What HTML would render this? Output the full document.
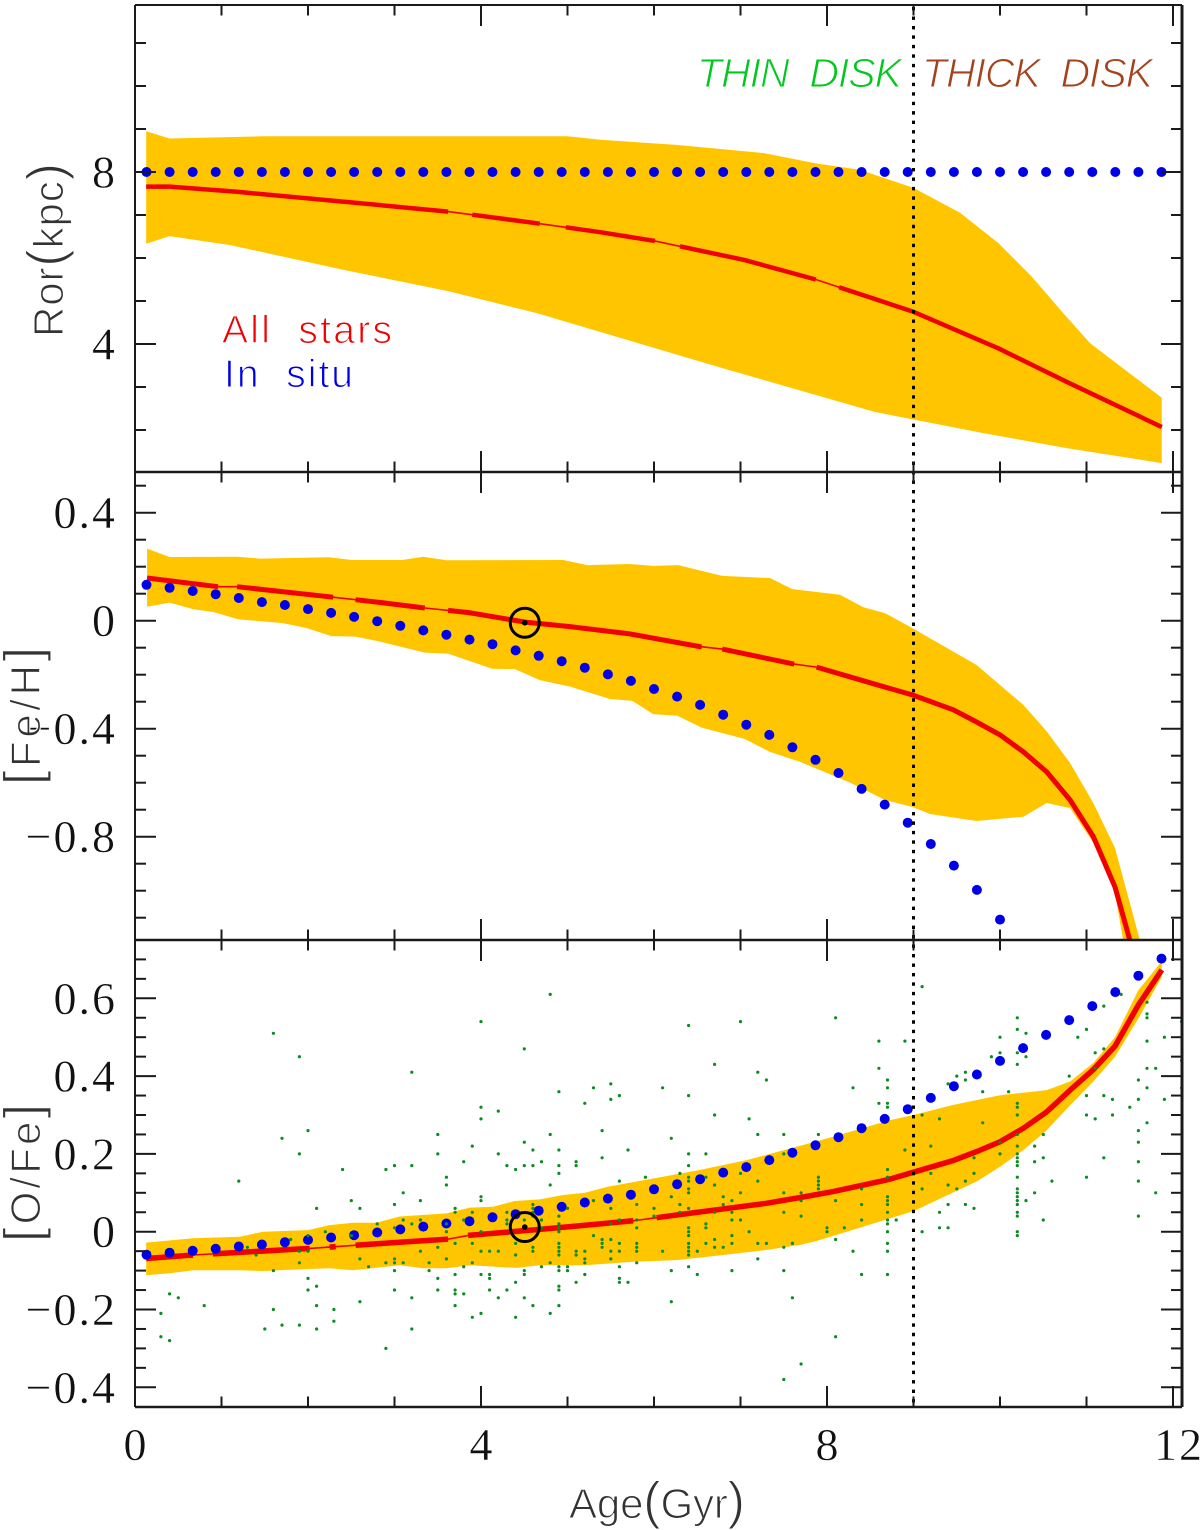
<!DOCTYPE html>
<html lang="en">
<head>
<meta charset="utf-8">
<title>Stellar radius and abundances versus age</title>
<style>
html,body{margin:0;padding:0;background:#fff;}
svg{display:block;}
.lbl{font-family:"Liberation Sans",sans-serif;paint-order:fill;stroke:#fff;stroke-width:1.1px;}
.tick{font-family:"Liberation Serif",serif;font-size:46px;fill:#111;letter-spacing:2px;stroke:#fff;stroke-width:.4px;}
</style>
</head>
<body>
<svg id="chart" xmlns="http://www.w3.org/2000/svg" width="1200" height="1530" viewBox="0 0 1200 1530">
  <defs>
    <clipPath id="clip-ror"><rect x="135" y="5" width="1047" height="467"/></clipPath>
    <clipPath id="clip-fe"><rect x="135" y="472" width="1047" height="468"/></clipPath>
    <clipPath id="clip-ofe"><rect x="135" y="940" width="1047" height="467"/></clipPath>
  </defs>
  <g id="marks"></g>
  <g id="axes"></g>
  <text class="lbl" x="697" y="87" font-size="41" font-style="italic" fill="#00c81e" textLength="205" lengthAdjust="spacing" xml:space="preserve">THIN  DISK</text>
  <text class="lbl" x="922" y="87" font-size="41" font-style="italic" fill="#a5421c" textLength="231" lengthAdjust="spacing" xml:space="preserve">THICK  DISK</text>
  <text class="lbl" x="222" y="343" font-size="39" fill="#f00000" textLength="170" lengthAdjust="spacing" xml:space="preserve">All  stars</text>
  <text class="lbl" x="224" y="387" font-size="39" fill="#0000e6" textLength="129" lengthAdjust="spacing" xml:space="preserve">In  situ</text>
  <text class="lbl" transform="translate(63,337) rotate(-90)" font-size="42" fill="#333" textLength="174" lengthAdjust="spacing">Ror<tspan font-size="52">(</tspan>kpc<tspan font-size="52">)</tspan></text>
  <text class="lbl" transform="translate(40,785) rotate(-90)" font-size="42" fill="#333" textLength="138" lengthAdjust="spacing"><tspan font-size="52">[</tspan>Fe/H<tspan font-size="52">]</tspan></text>
  <text class="lbl" transform="translate(40,1242) rotate(-90)" font-size="42" fill="#333" textLength="138" lengthAdjust="spacing"><tspan font-size="52">[</tspan>O/Fe<tspan font-size="52">]</tspan></text>
  <text class="lbl" x="569" y="1518" font-size="42" fill="#333" textLength="176" lengthAdjust="spacing">Age<tspan font-size="52">(</tspan>Gyr<tspan font-size="52">)</tspan></text>
</svg>
<script>
// ---------- shared bin ages of the "in situ" dots (Gyr) ----------
const dotAges = [.133,.4,.667,.933,1.2,1.467,1.733,2,2.267,2.533,2.8,3.067,3.333,3.6,3.867,4.133,4.4,4.667,4.933,5.2,5.467,5.733,6,6.267,6.533,6.8,7.067,7.333,7.6,7.867,8.133,8.4,8.667,8.933,9.2,9.467,9.733,10,10.267,10.533,10.8,11.067,11.333,11.6,11.867];

// ---------- Ror panel ----------
const rorUpperAges = [.13,.4,1.5,5,5.38,6.26,7.27,7.87,8.38,9,9.54,9.98,10.37,10.73,11.04,11.87];
const rorUpperVals = [8.95,8.78,8.83,8.83,8.75,8.63,8.44,8.2,8.05,7.63,7.05,6.35,5.56,4.72,4.02,2.75];
const rorLowerAges = [.13,.4,1.1,2.42,3.62,4.64,5.38,6.79,8.55,9.8,10.77,11.87];
const rorLowerVals = [6.33,6.51,6.3,5.72,5.23,4.72,4.28,3.44,2.42,1.93,1.58,1.23];
const rorMeanAges = [.13,.4,1.18,2.42,3.62,4.64,5.38,6.0,7.05,7.87,9,9.98,10.77,11.87];
const rorMeanVals = [7.66,7.66,7.54,7.31,7.08,6.81,6.6,6.4,5.95,5.5,4.75,3.9,3.12,2.07];
const rorThinFrom = [3.62,4.68,6.01,7.87];
const rorThinTo = [3.9,4.98,6.3,8.14];
const rorDots = [8,8,8,8,8,8,8,8,8,8,8,8,8,8,8,8,8,8,8,8,8,8,8,8,8,8,8,8,8,8,8,8,8,8,8,8,8,8,8,8,8,8,8,8,8];
const rorTickValues = [8,4];
const rorTickLabels = ["8","4"];

// ---------- [Fe/H] panel ----------
const feUpperAges = [.14,.4,1.18,1.45,2.24,2.51,3.09,3.33,3.6,4.95,5.23,5.72,5.99,6.28,6.79,7.34,7.6,8.15,8.42,8.67,8.99,9.73,10.27,10.54,10.81,11.08,11.33,11.61,11.63];
const feUpperVals = [.267,.236,.237,.23,.235,.225,.225,.237,.224,.225,.206,.21,.203,.206,.166,.158,.117,.096,.05,.028,-.028,-.164,-.312,-.41,-.527,-.676,-.842,-1.175,-1.25];
const feLowerAges = [.14,.4,.67,.91,1.2,1.71,1.98,2.27,2.55,2.8,3.35,3.62,4.13,4.39,4.68,5.03,5.49,5.75,5.99,6.27,6.55,7.05,7.34,7.69,8.27,8.67,8.99,9.19,9.73,10.27,10.54,10.81,11.08,11.33,11.42,11.44];
const feLowerVals = [.052,.067,.043,.032,.005,-.009,-.027,-.057,-.059,-.075,-.118,-.122,-.178,-.179,-.22,-.244,-.29,-.297,-.346,-.352,-.396,-.438,-.486,-.523,-.6,-.664,-.69,-.716,-.742,-.726,-.675,-.694,-.823,-1.01,-1.175,-1.25];
const feMeanAges = [.14,.96,1.18,2.29,2.8,3.35,3.86,4.51,5.03,5.72,6.53,6.79,7.61,7.88,8.5,8.99,9.46,9.73,10,10.27,10.54,10.81,11.08,11.33,11.5,11.56];
const feMeanVals = [.158,.126,.126,.087,.069,.047,.03,-.005,-.022,-.049,-.096,-.105,-.16,-.172,-.23,-.275,-.33,-.375,-.423,-.486,-.56,-.664,-.8,-.986,-1.183,-1.25];
const feThinFrom = [.96,2.29,3.35,6.55,7.62];
const feThinTo = [1.18,2.55,3.62,6.79,7.88];
const feDots = [.133,.122,.11,.098,.084,.069,.058,.043,.029,.014,-.002,-.019,-.036,-.052,-.07,-.087,-.11,-.13,-.15,-.174,-.199,-.223,-.253,-.281,-.312,-.348,-.385,-.423,-.469,-.515,-.564,-.623,-.681,-.748,-.827,-.907,-.997,-1.107];
const feTickValues = [.4,0,-.4,-.8];
const feTickLabels = ["0.4","0","\u22120.4","\u22120.8"];

// ---------- [O/Fe] panel ----------
const ofeUpperAges = [.13,.67,1.21,1.48,2,2.25,2.52,2.79,3.06,3.6,3.87,4.14,4.39,4.68,4.94,5.2,5.47,6,6.54,7.07,7.69,8.07,8.73,9,9.46,10,10.54,10.81,11.08,11.33,11.6,11.87];
const ofeUpperVals = [-.028,-.017,-.013,0,.004,.017,.023,.023,.039,.047,.062,.064,.079,.083,.094,.1,.116,.137,.159,.184,.221,.244,.287,.3,.326,.351,.364,.386,.434,.5,.621,.695];
const ofeLowerAges = [.13,.4,.67,1.21,1.48,2,2.25,2.52,3.06,3.33,3.6,3.87,4.41,4.68,5.2,5.76,6.26,6.8,7.3,7.69,7.88,8.42,9,9.73,10,10.27,10.54,10.81,11.08,11.33,11.6,11.87];
const ofeLowerVals = [-.112,-.107,-.099,-.099,-.101,-.096,-.094,-.099,-.086,-.094,-.094,-.086,-.093,-.086,-.086,-.077,-.073,-.06,-.047,-.034,-.024,.013,.053,.129,.167,.21,.261,.325,.386,.45,.548,.655];
const ofeMeanAges = [.13,.67,2.02,3.06,3.62,3.87,4.68,5.22,5.76,6.26,7.3,7.69,8.07,8.69,9,9.46,9.73,10,10.27,10.54,10.81,11.08,11.33,11.6,11.87];
const ofeMeanVals = [-.069,-.06,-.043,-.027,-.019,-.009,.006,.017,.028,.043,.073,.088,.103,.133,.153,.183,.206,.231,.266,.308,.364,.417,.477,.583,.673];
const ofeThinFrom = [.67,2.02,2.32,3.62,5.76];
const ofeThinTo = [.9,2.25,2.55,3.85,6.03];
const ofeDots = [-.059,-.054,-.049,-.044,-.038,-.033,-.027,-.021,-.015,-.009,-.002,.006,.013,.021,.027,.037,.045,.054,.064,.075,.085,.095,.109,.122,.135,.152,.166,.184,.203,.222,.243,.266,.29,.315,.344,.374,.404,.439,.472,.506,.544,.58,.616,.658,.702];
const ofeTickValues = [.6,.4,.2,0,-.2,-.4];
const ofeTickLabels = ["0.6","0.4","0.2","0","\u22120.2","\u22120.4"];

// ---------- individual stars in the [O/Fe] panel (parallel arrays) ----------
const starAges = [
1.6,1.9,2.0,1.7,1.9,1.2,2.4,2.9,3.0,2.5,
2.1,2.6,3.0,2.8,3.0,2.2,1.8,2.0,1.3,1.9,
2.0,1.4,2.5,1.9,2.6,2.7,2.9,3.0,3.0,1.6,
3.0,2.0,2.1,2.0,3.0,.4,.5,.8,.3,2.6,
2.1,1.6,2.3,2.3,.3,.4,1.5,1.7,1.9,2.1,2.9,
4.8,4.0,4.5,3.2,6.4,7.0,6.7,7.2,7.3,5.3,
5.5,5.5,5.6,4.9,5.2,6.1,6.4,4.0,4.0,4.2,
6.7,7.1,5.4,3.5,4.8,7.2,7.5,6.2,3.9,4.5,
4.6,4.9,5.7,3.5,4.2,6.4,6.6,7.5,5.4,3.8,
4.7,5.1,3.2,4.3,4.5,4.6,4.9,5.1,6.4,4.4,
4.9,6.3,7.0,3.6,5.9,6.4,6.4,6.6,5.6,7.2,
3.6,4.8,6.7,6.4,6.4,3.1,7.0,7.5,4.0,4.0,
6.2,6.8,3.3,5.3,6.9,5.8,6.3,6.8,4.6,4.6,
4.6,4.6,3.7,3.7,5.0,5.5,6.0,6.4,3.9,4.3,
6.3,6.7,6.9,7.5,4.9,6.0,3.1,3.3,3.8,4.3,
4.5,4.7,5.6,5.8,6.9,7.0,3.2,4.3,4.9,5.5,
3.6,4.7,4.9,5.8,6.4,6.6,6.6,3.6,4.0,4.9,
7.1,6.4,5.3,6.4,6.9,4.4,4.9,3.7,3.9,5.4,
5.4,5.4,5.5,5.6,5.8,6.4,6.6,6.7,6.7,6.9,
7.2,7.3,7.6,3.5,4.6,4.6,4.9,4.9,4.9,3.3,
4.0,4.1,4.2,5.1,5.1,5.2,5.2,5.2,5.5,5.5,
5.6,5.8,5.8,6.1,6.4,6.4,6.4,6.5,6.8,7.5,
4.4,3.6,7.2,3.1,3.4,3.9,4.8,5.8,3.8,4.7,
4.9,4.9,5.0,5.0,5.6,6.4,3.4,4.5,4.5,6.2,
6.9,7.5,3.7,4.0,4.1,4.1,5.2,6.5,3.5,5.6,
5.6,4.4,5.1,5.7,4.9,4.9,3.5,3.7,3.7,4.1,
4.3,3.8,3.2,4.2,4.5,7.6,6.2,3.7,4.6,4.9,
4.0,4.8,3.9,4.4,3.2,7.5,
9.1,8.1,10.2,8.6,8.9,10.0,10.2,10.3,10.9,11.0,
11.2,11.4,11.7,11.7,11.7,12.1,11.9,11.7,11.2,11.1,
10.2,10.0,9.9,10.3,12.1,10.2,8.6,11.1,11.7,11.8,
9.6,9.5,10.8,9.6,8.7,11.6,9.4,8.3,8.7,11.7,
12.1,9.8,10.1,11.0,11.2,11.3,11.6,11.9,8.6,8.7,
8.7,10.2,10.2,11.5,9.1,10.2,11.0,11.3,9.3,11.1,
9.8,11.7,11.6,10.5,7.9,10.2,10.0,11.6,9.2,10.2,
10.4,8.9,10.0,10.2,10.2,10.2,10.2,9.7,10.5,11.2,
10.4,11.6,8.7,9.2,9.7,7.9,7.9,7.9,7.9,8.7,
10.2,11.0,9.6,10.6,11.6,9.4,8.4,9.1,9.5,10.2,
10.2,10.2,10.2,10.2,10.4,11.8,7.7,8.7,8.7,8.7,
7.7,8.1,10.3,8.4,9.4,9.6,9.7,8.7,9.3,10.2,
10.2,7.7,11.6,8.4,8.7,8.7,8.8,10.5,8.0,8.0,
8.2,9.3,9.4,8.7,9.1,10.2,10.2,8.1,8.7,8.3,
8.7,8.4,8.7,8.1,7.7];
const starOFe = [
.51,.45,.26,.24,.20,.13,.16,.16,.17,.08,
.06,.06,.07,.02,.01,0,-.02,-.01,-.04,-.05,
-.05,-.06,-.01,-.08,-.07,-.09,-.08,-.07,-.08,-.10,
-.10,-.12,-.14,-.15,-.15,-.16,-.17,-.19,-.21,-.18,
-.19,-.20,-.20,-.23,-.27,-.28,-.25,-.24,-.24,-.25,-.30,
.61,.54,.47,.41,.53,.54,.43,.41,.39,.37,
.38,.34,.35,.36,.33,.37,.35,.32,.29,.31,
.30,.29,.26,.25,.25,.25,.25,.24,.22,.23,
.21,.21,.21,.20,.20,.20,.20,.20,.19,.18,
.18,.18,.17,.17,.17,.17,.17,.17,.17,.16,
.15,.15,.15,.14,.14,.14,.13,.14,.13,.13,
.12,.12,.12,.11,.10,.10,.10,.10,.09,.08,
.09,.09,.08,.08,.08,.07,.07,.07,.07,.06,
.05,.04,.06,.05,.06,.06,.06,.06,.05,.05,
.05,.05,.05,.05,.04,.04,.03,.03,.03,.03,
.03,.03,.03,.03,.03,.03,.02,.02,.02,.02,
.02,.01,.01,.01,.01,.02,.01,0,0,0,
0,0,-.01,-.01,-.01,-.03,-.03,-.03,-.03,-.02,
-.03,-.04,-.02,-.03,-.03,-.03,-.03,-.02,-.04,-.03,
-.03,-.03,-.03,-.04,-.04,-.05,-.04,-.05,-.06,-.05,
-.05,-.05,-.05,-.05,-.06,-.05,-.07,-.08,-.05,-.07,
-.05,-.04,-.05,-.05,-.04,-.05,-.06,-.05,-.04,-.04,
-.06,-.07,-.07,-.08,-.08,-.08,-.08,-.08,-.09,-.09,
-.09,-.10,-.09,-.10,-.09,-.09,-.10,-.10,-.11,-.10,
-.10,-.10,-.11,-.11,-.11,-.12,-.11,-.11,-.12,-.12,
-.13,-.13,-.13,-.13,-.14,-.15,-.15,-.15,-.16,-.15,
-.15,-.16,-.17,-.17,-.17,-.17,-.18,-.19,-.19,-.19,
-.21,-.21,-.22,-.22,-.25,-.38,
.63,.55,.55,.49,.49,.50,.52,.51,.50,.52,
.58,.61,.59,.56,.55,.54,.50,.49,.47,.46,
.46,.46,.45,.45,.44,.43,.42,.42,.42,.42,
.41,.40,.40,.39,.39,.39,.38,.37,.37,.37,
.37,.36,.36,.35,.35,.34,.34,.34,.33,.33,
.32,.33,.32,.32,.30,.30,.30,.30,.29,.29,
.28,.28,.26,.25,.25,.25,.23,.23,.22,.22,
.22,.21,.20,.20,.19,.18,.17,.19,.19,.19,
.18,.18,.16,.15,.15,.14,.13,.12,.11,.14,
.14,.14,.13,.13,.13,.12,.11,.11,.11,.11,
.10,.09,.08,.07,.10,.10,.10,.09,.08,.07,
.08,.08,.08,.07,.07,.07,.06,.05,.05,.05,
.04,.04,.04,.03,.03,.02,.03,.03,.01,0,
.01,.01,.01,0,0,0,-.01,-.02,-.03,-.05,
-.05,-.11,-.11,-.27,-.34];

// ---------- other annotated values ----------
const solarAge = [4.5];
const solarFeH = [-.0075];
const solarOFe = [.012];
const boundaryAge = [9];
const xTickValues = [0,4,8,12];
const xTickLabels = ["0","4","8","12"];

// ---------- axis functions ----------
const xPx = a => 135 + 86.5 * a;
const yRor = v => 172 + (8 - v) * 43;
const yFe = v => 620.7 - v * 270;
const yOFe = v => 1231.7 - v * 389;

const NS = "http://www.w3.org/2000/svg";
const marks = document.getElementById("marks");
const axes = document.getElementById("axes");

function mk(tag, parent, attrs) {
  const e = document.createElementNS(NS, tag);
  for (const k in attrs) e.setAttribute(k, attrs[k]);
  parent.appendChild(e);
  return e;
}
function interp(ages, vals, a) {
  if (a <= ages[0]) return vals[0];
  for (let i = 1; i < ages.length; i++) {
    if (a <= ages[i]) {
      const t = (a - ages[i-1]) / (ages[i] - ages[i-1]);
      return vals[i-1] + t * (vals[i] - vals[i-1]);
    }
  }
  return vals[vals.length - 1];
}
function linePath(ages, vals, y) {
  return ages.map((a, i) => (i ? "L" : "M") + xPx(a).toFixed(1) + " " + y(vals[i]).toFixed(1)).join("");
}
function drawPanel(key, clipId, y, upA, upV, loA, loV, meA, meV, thinFrom, thinTo, dotVals, redWidth) {
  const g = mk("g", marks, {"clip-path": "url(#" + clipId + ")"});
  
  
  // dispersion band
  const upPts = upA.map((a, i) => xPx(a).toFixed(1) + "," + y(upV[i]).toFixed(1));
  const loPts = loA.map((a, i) => xPx(a).toFixed(1) + "," + y(loV[i]).toFixed(1)).reverse();
  const band = mk("polygon", g, {points: upPts.concat(loPts).join(" "), fill: "#ffc600"});
  
  
  // thin underlay of the mean line (visible in the breaks of the thick line)
  const under = mk("path", g, {d: linePath(meA, meV, y), fill: "none", stroke: "#f00000", "stroke-width": 1.6});
  
  
  // thick mean-line segments between the breaks
  let start = meA[0];
  const ends = thinFrom.concat([meA[meA.length - 1]]);
  const starts = ends.map((_, i) => i === 0 ? start : thinTo[i - 1]);
  ends.forEach((end, i) => {
    const s = starts[i];
    const sa = [s].concat(meA.filter(a => a > s && a < end), [end]);
    const sv = sa.map(a => interp(meA, meV, a));
    const seg = mk("path", g, {d: linePath(sa, sv, y), fill: "none", stroke: "#f00000", "stroke-width": redWidth});
    
    
  });
  // in situ dots
  dotVals.forEach((v, i) => {
    const c = mk("circle", g, {cx: xPx(dotAges[i]).toFixed(1), cy: y(v).toFixed(1), r: 5, fill: "#0000e6"});
    
    
  });
  return g;
}
drawPanel("ror", "clip-ror", yRor, rorUpperAges, rorUpperVals, rorLowerAges, rorLowerVals, rorMeanAges, rorMeanVals, rorThinFrom, rorThinTo, rorDots, 4.5);
drawPanel("fe-h", "clip-fe", yFe, feUpperAges, feUpperVals, feLowerAges, feLowerVals, feMeanAges, feMeanVals, feThinFrom, feThinTo, feDots, 5);
const ofeGroup = drawPanel("o-fe", "clip-ofe", yOFe, ofeUpperAges, ofeUpperVals, ofeLowerAges, ofeLowerVals, ofeMeanAges, ofeMeanVals, ofeThinFrom, ofeThinTo, ofeDots, 5.5);

// stars
starAges.forEach((a, i) => {
  const s = mk("circle", ofeGroup, {cx: xPx(a).toFixed(1), cy: yOFe(starOFe[i]).toFixed(1), r: 1.6, fill: "#0c8a24"});
  
  
});

// thin/thick disk boundary
const boundary = mk("line", marks, {x1: xPx(boundaryAge[0]), x2: xPx(boundaryAge[0]), y1: 7, y2: 1407, stroke: "#000", "stroke-width": 3, "stroke-dasharray": "3.4 6.07"});



// solar symbols
[[solarFeH[0], yFe, "fe-h"], [solarOFe[0], yOFe, "o-fe"]].forEach(d => {
  const ring = mk("circle", marks, {cx: xPx(solarAge[0]) + .5, cy: d[1](d[0]), r: 14.5, fill: "none", stroke: "#000", "stroke-width": 3});
  
  
  const pt = mk("circle", marks, {cx: xPx(solarAge[0]) + .5, cy: d[1](d[0]), r: 2.8, fill: "#000"});
  
  
});

// ---------- frames and ticks ----------
function seg(x1, y1, x2, y2, w, name) {
  const l = mk("line", axes, {x1: x1, y1: y1, x2: x2, y2: y2, stroke: "#1a1a1a", "stroke-width": w});
  
  
}
const panelEdges = [[5, 472], [472, 940], [940, 1407]];
panelEdges.forEach(p => {
  for (let a = 0; a <= 12; a++) {
    const len = a % 4 === 0 ? 21 : 10.5;
    const x = xPx(a);
    if (a > 0) {
      seg(x, p[0], x, p[0] + len, 2, "x-tick");
      seg(x, p[1], x, p[1] - len, 2, "x-tick");
    }
  }
});
seg(135, 5, 1182, 5, 2, "frame-top");
seg(135, 472, 1182, 472, 2.4, "panel-divider-upper");
seg(135, 940, 1182, 940, 2.4, "panel-divider-lower");
seg(135, 1407, 1182, 1407, 2.4, "frame-bottom");
seg(135, 5, 135, 1407, 2, "frame-left");
seg(1182, 5, 1182, 1407, 3, "frame-right");

function yTicks(y, lo, hi, step, every, name) {
  const n = Math.round((hi - lo) / step);
  for (let k = 0; k <= n; k++) {
    const v = lo + k * step;
    const major = Math.abs(v / every - Math.round(v / every)) < 1e-6;
    const len = major ? 21 : 11;
    seg(135, y(v), 135 + len, y(v), 2, name);
    seg(1182, y(v), 1182 - len, y(v), 2, name);
  }
}
yTicks(yRor, 2, 11, 1, 4, "ror-y-tick");
yTicks(yFe, -1.1, .5, .1, .4, "fe-h-y-tick");
yTicks(yOFe, -.4, .7, .05, .2, "o-fe-y-tick");

function tickLabels(values, labels, y, name) {
  values.forEach((v, i) => {
    const t = mk("text", axes, {class: "tick", x: 117, y: (y(v) + 15.5).toFixed(1), "text-anchor": "end"});
    t.textContent = labels[i];
    
    
  });
}
tickLabels(rorTickValues, rorTickLabels, yRor, "ror-tick-label");
tickLabels(feTickValues, feTickLabels, yFe, "fe-h-tick-label");
tickLabels(ofeTickValues, ofeTickLabels, yOFe, "o-fe-tick-label");
xTickValues.forEach((a, i) => {
  const t = mk("text", axes, {class: "tick", x: xPx(a) + 1 + (a === 12 ? 5 : 0), y: 1460, "text-anchor": "middle"});
  t.textContent = xTickLabels[i];
  
  
});
</script>
</body>
</html>
